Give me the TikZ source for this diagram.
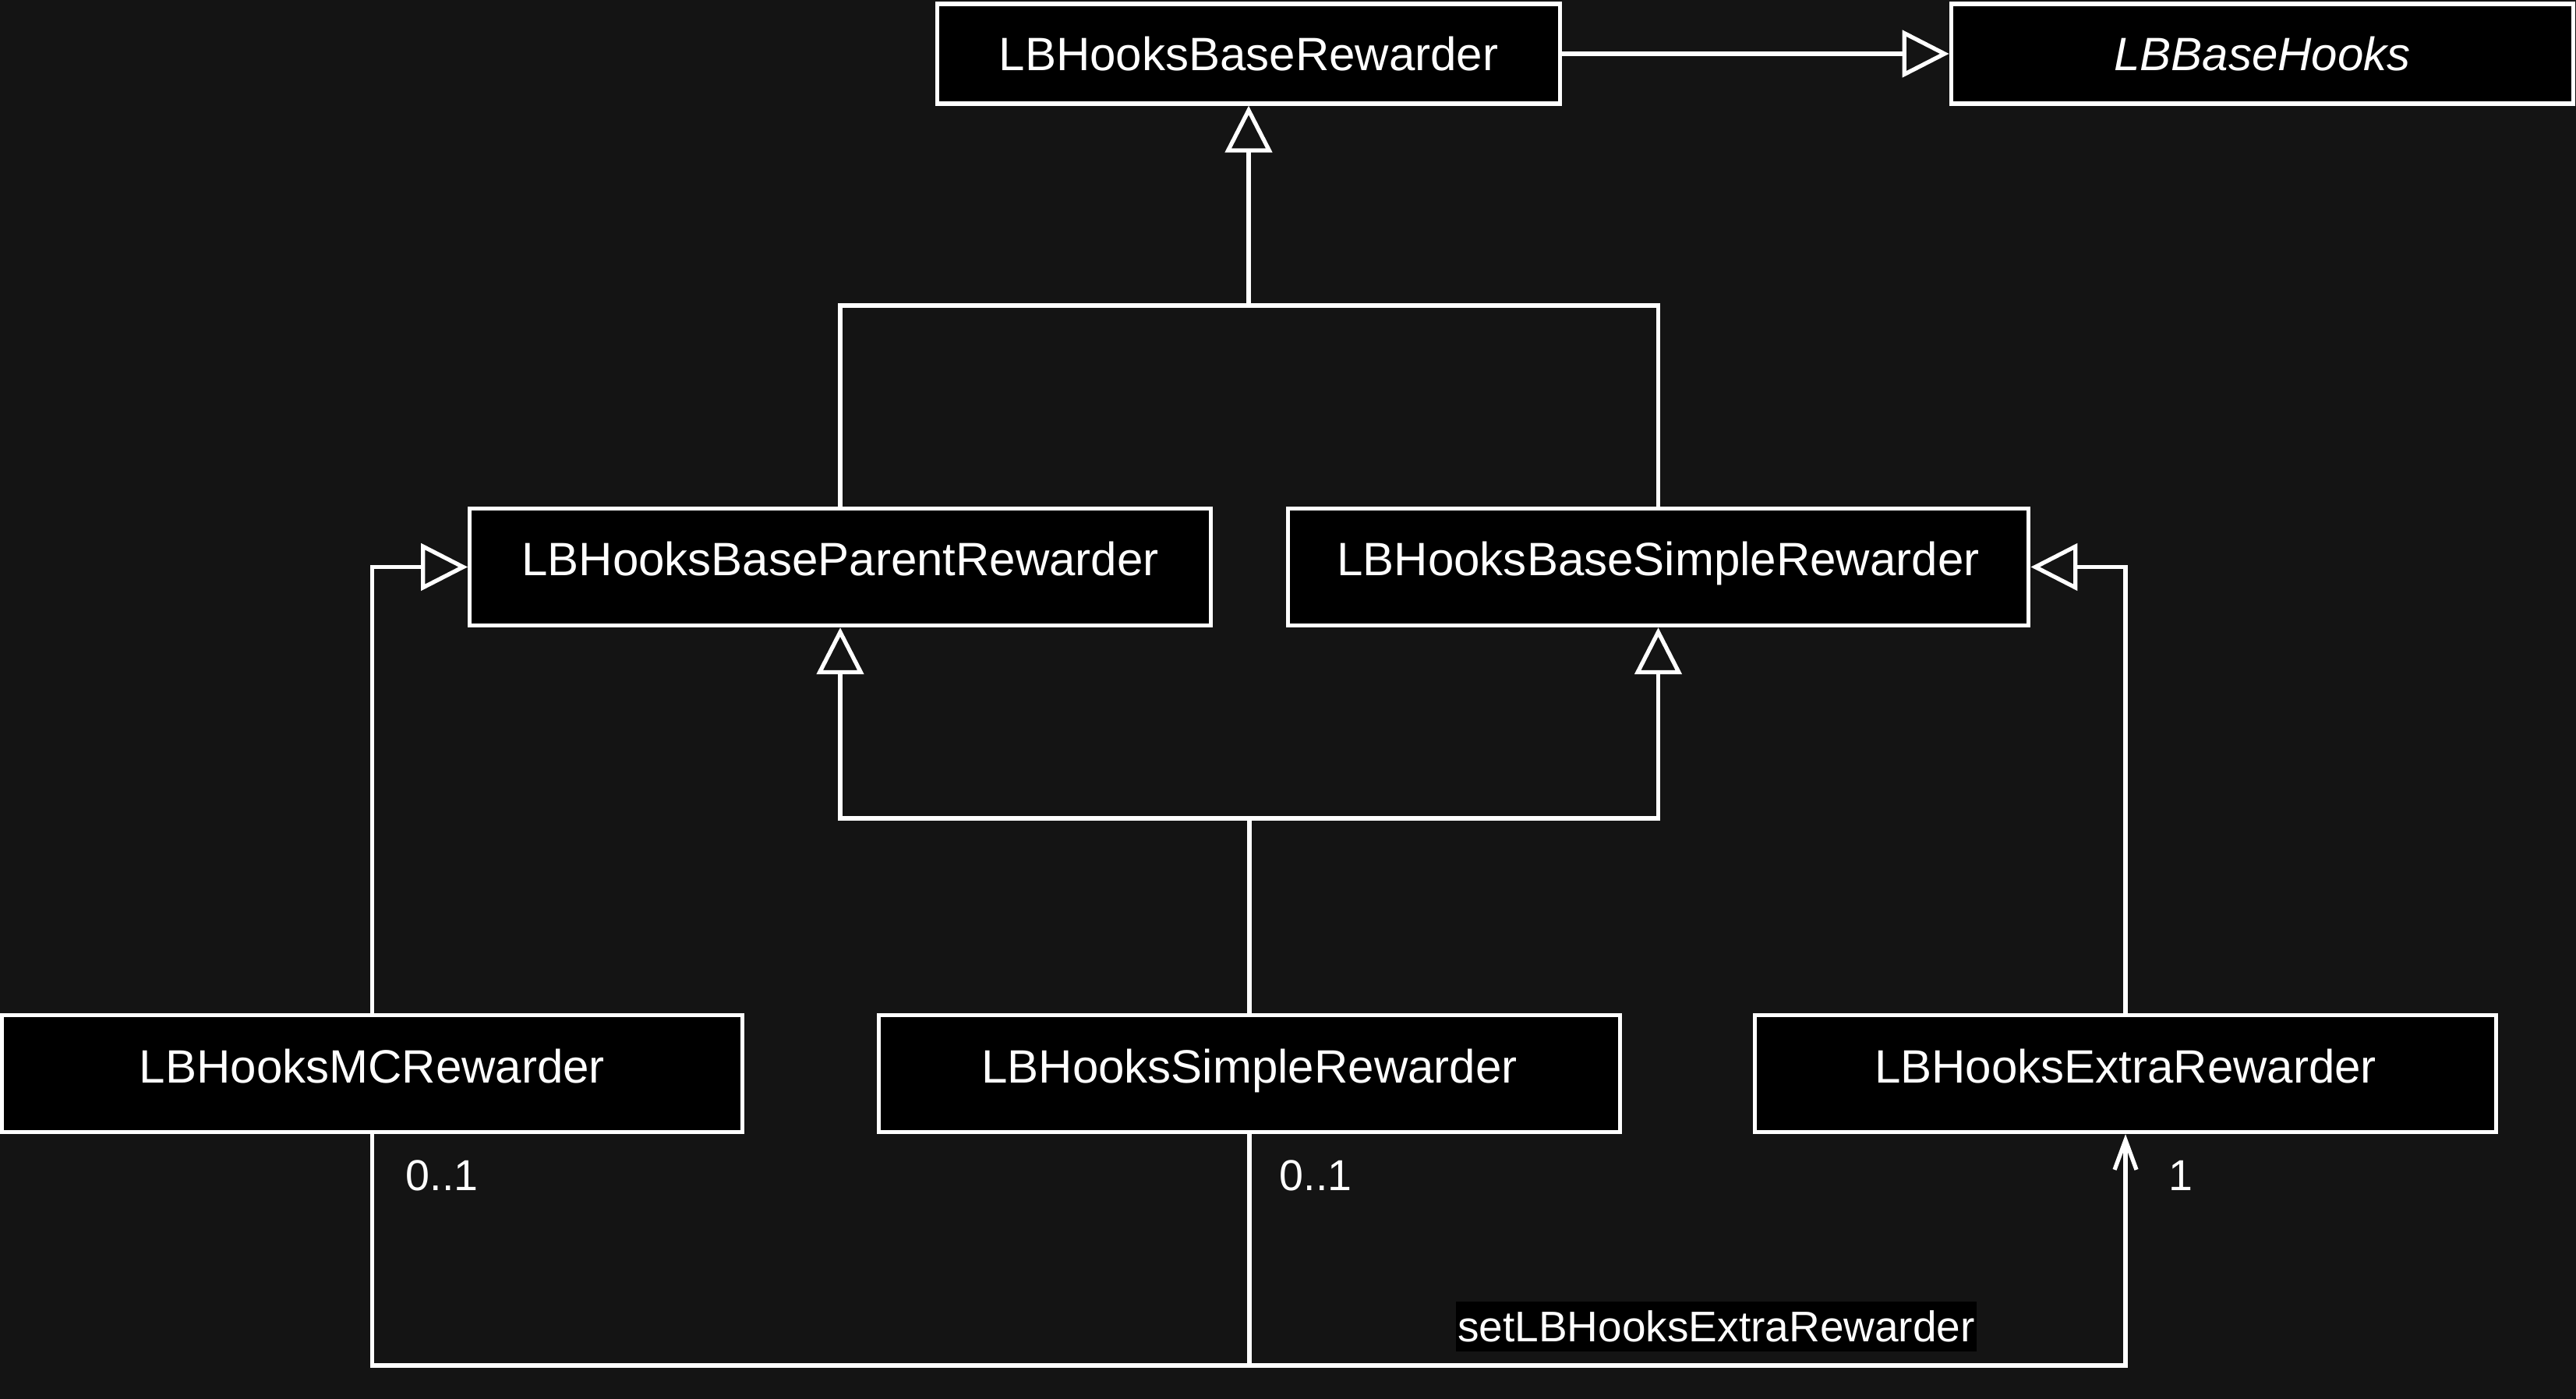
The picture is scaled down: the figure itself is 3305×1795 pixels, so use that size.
\documentclass[tikz,border=0pt]{standalone}
\usepackage{fontspec}
\setmainfont{Liberation Sans}
\usetikzlibrary{arrows.meta}
\definecolor{bgc}{RGB}{20,20,20}
\newcommand\rzup[1]{\raisebox{0.1cm}[0pt][0pt]{#1}}
\begin{document}
\begin{tikzpicture}[x=0.01cm,y=-0.01cm,
  cls/.style={draw=white, fill=black, text=white, line width=1.5pt,
    font=\fontsize{17.07pt}{20pt}\selectfont, text height=0.43cm, text depth=0pt,
    inner sep=0pt, minimum width=9.5cm, minimum height=1.5cm},
  topcls/.style={cls, minimum width=7.98cm, minimum height=1.28cm},
  conn/.style={draw=white, line width=1.5pt},
  inh/.style={conn, -{Triangle[open, length=0.6cm, width=0.6cm]}},
  assoc/.style={conn, -{Straight Barb[length=0.38cm, width=0.28cm]}},
  mult/.style={text=white, font=\fontsize{15.8pt}{18pt}\selectfont, inner sep=0pt,
    text height=0.395cm, text depth=0pt, anchor=west},
  alabel/.style={text=white, fill=black, font=\fontsize{15.65pt}{18pt}\selectfont,
    inner xsep=0.02cm, inner ysep=0pt, text height=0.39cm, text depth=0pt,
    minimum height=0.64cm}
]
\useasboundingbox[fill=bgc] (0,0) rectangle (3305,1795);

\node[topcls] (BR) at (1602,69) {LBHooksBaseRewarder};
\node[topcls] (BH) at (2902.5,69) {\itshape LBBaseHooks};
\node[cls] (P)  at (1078,727.5) {\rzup{LBHooksBaseParentRewarder}};
\node[cls] (BS) at (2127.5,727.5) {\rzup{LBHooksBaseSimpleRewarder}};
\node[cls] (MC) at (477.5,1377.5) {\rzup{LBHooksMCRewarder}};
\node[cls] (S)  at (1603,1377.5) {\rzup{LBHooksSimpleRewarder}};
\node[cls] (EX) at (2727,1377.5) {\rzup{LBHooksExtraRewarder}};

\coordinate (top) at (1602,392);
\coordinate (mid) at (1603,1050);
\coordinate (bot) at (1603,1752);

\draw[inh] (BR.east) -- (BH.west);
\draw[inh] (P.north) |- (top) -- (BR.south);
\draw[conn] (BS.north) |- (top);
\draw[conn] (S.north) -- (mid);
\draw[inh] (mid) -| (P.south);
\draw[inh] (mid) -| (BS.south);
\draw[inh] (MC.north) |- (P.west);
\draw[inh] (EX.north) |- (BS.east);

\draw[conn] (MC.south) |- (bot);
\draw[conn] (S.south) -- (bot);
\draw[assoc] (bot) -| (EX.south);

\node[mult] (m1) at (520,1508) {0..1};
\node[mult] (m2) at (1641,1508) {0..1};
\node[mult] (m3) at (2782,1508) {1};
\node[alabel] (al) at (2202,1702) {setLBHooksExtraRewarder};
\end{tikzpicture}
\end{document}
